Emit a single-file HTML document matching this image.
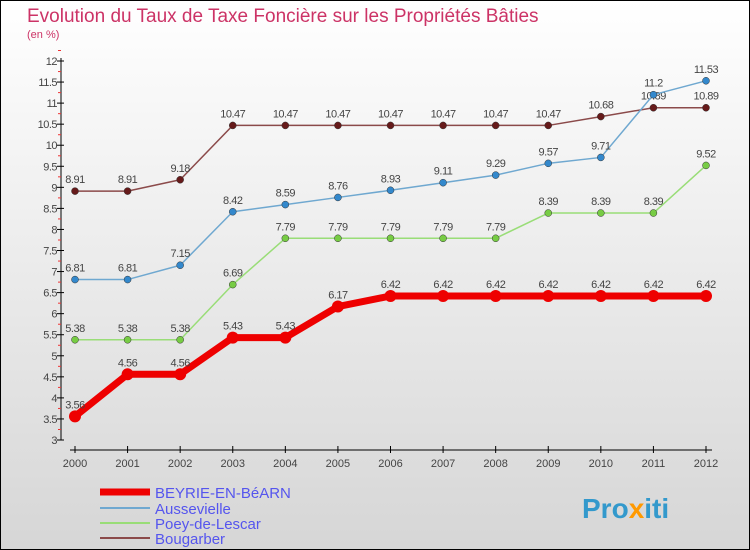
<!DOCTYPE html>
<html><head><meta charset="utf-8"><style>
body{margin:0}
svg{display:block;font-family:"Liberation Sans",sans-serif}
</style></head><body>
<svg id="c" width="750" height="550">
<defs><linearGradient id="bg" x1="0" y1="0" x2="0" y2="1"><stop offset="0" stop-color="#ffffff"/><stop offset="1" stop-color="#d6d6d6"/></linearGradient></defs>
<rect x="0.5" y="0.5" width="749" height="549" fill="url(#bg)" stroke="#000"/>
<text x="27" y="22" font-size="19" fill="#cc3366">Evolution du Taux de Taxe Foncière sur les Propriétés Bâties</text>
<text x="27" y="38" font-size="11" fill="#cc3366">(en %)</text>
<g id="axes"></g><g id="series"></g>
<g>
<line x1="100" y1="492" x2="150" y2="492" stroke="#ee0000" stroke-width="7"/>
<text x="155" y="498" font-size="15" fill="#5555ee">BEYRIE-EN-BéARN</text>
<line x1="100" y1="508" x2="150" y2="508" stroke="#6fa8d0" stroke-width="2"/>
<text x="155" y="514" font-size="15" fill="#5555ee">Aussevielle</text>
<line x1="100" y1="523" x2="150" y2="523" stroke="#99dd77" stroke-width="2"/>
<text x="155" y="529" font-size="15" fill="#5555ee">Poey-de-Lescar</text>
<line x1="100" y1="538" x2="150" y2="538" stroke="#8b4a4a" stroke-width="2"/>
<text x="155" y="544" font-size="15" fill="#5555ee">Bougarber</text>
</g>
<text x="582" y="518" font-size="28" font-weight="bold" fill="#3399cc">Pro<tspan fill="#ff9900">x</tspan>iti</text>
</svg>
<script>
const years=[2000,2001,2002,2003,2004,2005,2006,2007,2008,2009,2010,2011,2012];
const beyrie=[3.56,4.56,4.56,5.43,5.43,6.17,6.42,6.42,6.42,6.42,6.42,6.42,6.42];
const aussevielle=[6.81,6.81,7.15,8.42,8.59,8.76,8.93,9.11,9.29,9.57,9.71,11.2,11.53];
const poey=[5.38,5.38,5.38,6.69,7.79,7.79,7.79,7.79,7.79,8.39,8.39,8.39,9.52];
const bougarber=[8.91,8.91,9.18,10.47,10.47,10.47,10.47,10.47,10.47,10.47,10.68,10.89,10.89];
const yTicks=[3,3.5,4,4.5,5,5.5,6,6.5,7,7.5,8,8.5,9,9.5,10,10.5,11,11.5,12];
const NS="http://www.w3.org/2000/svg";
function X(i){return 75+i*(706-75)/(years.length-1);}
function Y(v){return 440-(v-3)*(440-61)/9;}
function mk(t,a,p){const e=document.createElementNS(NS,t);for(const k in a)e.setAttribute(k,a[k]);p.appendChild(e);return e;}
const ax=document.getElementById('axes');
let l=mk('line',{x1:61,y1:58,x2:61,y2:440,stroke:'#000'},ax);


l=mk('line',{x1:70,y1:450,x2:712,y2:450,stroke:'#000'},ax);


yTicks.forEach(v=>{const y=Y(v);
 mk('line',{x1:57,y1:y,x2:64,y2:y,stroke:'#000'},ax);
 mk('line',{x1:58,y1:y-10.5,x2:61,y2:y-10.5,stroke:'#e33'},ax);
 const t=mk('text',{x:57,y:y+4,'font-size':11,'text-anchor':'end',fill:'#444','letter-spacing':'-0.5'},ax);t.textContent=String(v);
 
 });
years.forEach((yr,i)=>{const x=X(i);
 mk('line',{x1:x,y1:446,x2:x,y2:453,stroke:'#000'},ax);
 const t=mk('text',{x:x,y:467,'font-size':11,'text-anchor':'middle',fill:'#444'},ax);t.textContent=yr;
 
 });
const sg=document.getElementById('series');
function draw(name,vals,col,w,r,dot){
 const g=mk('g',{},sg);
 
 
 mk('polyline',{points:vals.map((v,i)=>X(i)+','+Y(v)).join(' '),fill:'none',stroke:col,'stroke-width':w,'stroke-linejoin':'round'},g);
 vals.forEach((v,i)=>{const c=mk('circle',{cx:X(i),cy:Y(v),r:r,fill:dot,stroke:'#333','stroke-width':r>4?0:0.5},g);
  
  
  const t=mk('text',{x:X(i),y:Y(v)-8,'font-size':11,'text-anchor':'middle',fill:'#444','letter-spacing':'-0.5'},g);t.textContent=String(v);
  
  });
}
draw('bougarber',bougarber,'#8b4a4a',1.5,3.5,'#661a1a');
draw('poey',poey,'#99dd77',1.5,3.5,'#77cc44');
draw('aussevielle',aussevielle,'#6fa8d0',1.5,3.5,'#3388cc');
draw('beyrie',beyrie,'#ee0000',7,6,'#ee0000');
</script>
</body></html>
